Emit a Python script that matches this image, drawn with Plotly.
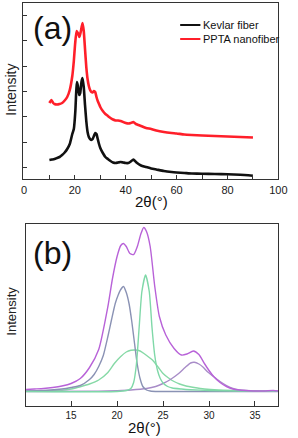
import plotly.graph_objects as go

# ---------------- Panel (a): XRD patterns ----------------
kev_x = [10, 11, 12, 13, 14, 15, 16, 17, 18, 19, 19.6, 20.2, 20.5, 20.8, 21.2, 21.7, 22.1, 22.6, 23.0, 23.5, 24.0,
         24.5, 25.0, 25.5, 26.0, 26.5, 27.0, 27.5, 28.0, 28.5, 29.0, 29.5, 30, 31, 32, 33, 34, 35, 36, 37, 38, 39,
         40, 41, 42, 43, 44, 45, 46, 48, 50, 52, 55, 58, 60, 63, 66, 70, 75, 80, 85, 90]
kev_y = [19, 19.5, 20, 21, 22, 24, 26.5, 30, 35, 45, 50, 68, 85, 97, 93, 84, 86, 97, 101, 92, 74,
         58, 47, 42, 40, 39, 40, 43, 46, 45, 40, 35, 31, 26, 22, 20, 18, 16.5, 16, 16.5, 17, 16.5,
         16, 16, 17.5, 19.5, 17, 15, 13.5, 12, 10.5, 9.5, 8, 7, 6.5, 6, 5.5, 5.2, 5, 4.8, 4.3, 3.3]

ppta_x = [10, 10.8, 11.5, 12, 13, 14, 15, 16, 17, 18, 19, 19.6, 20.1, 20.7, 21.2, 21.8, 22.3, 23.0, 23.5, 24.0,
          24.5, 25.0, 25.5, 26, 26.5, 27, 27.5, 28, 28.5, 29, 29.5, 30, 31, 32, 33, 34, 35, 36, 37, 38, 39,
          40, 41, 42, 43, 44, 45, 46, 48, 50, 52, 55, 58, 60, 63, 66, 70, 75, 80, 85, 90]
ppta_y = [76, 79, 76, 75, 74.5, 75, 76, 78.5, 82, 89, 103, 118, 135, 148, 146, 142, 147, 156, 148, 130,
          112, 100, 93, 89, 87, 86.5, 88, 87, 82, 78, 75, 72, 68, 65, 63, 61, 59.5, 58.5, 58.5, 58, 57,
          56, 55.5, 56, 57, 55, 54, 53, 51, 50, 48.5, 47, 46, 45.5, 44.5, 44, 43.5, 43, 42.5, 42, 41.5]

a_names = ["Kevlar fiber", "PPTA nanofiber"]
a_xticks = [0, 10, 20, 30, 40, 50, 60, 70, 80, 90, 100]
a_xticktext = ["0", "", "20", "", "40", "", "60", "", "80", "", "100"]
a_yticks = [11.7, 37, 62.3, 87.5, 112.8, 138.2, 163.5]

# ---------------- Panel (b): peak fitting ----------------
tot_x = [10, 11, 12, 13, 14, 15, 16, 17, 18, 19, 19.5, 20, 20.4, 20.7, 21.0, 21.4, 21.8, 22.2, 22.6, 22.9, 23.2,
         23.6, 24.1, 24.6, 25.3, 26.2, 27.0, 27.6, 28.3, 28.9, 29.5, 30, 30.5, 31.2, 31.9, 32.6, 33.3, 34, 35,
         36, 37, 37.5]
tot_y = [2, 2.5, 3, 4, 5.5, 8, 13, 24, 42, 85, 113, 135, 146, 148, 145, 138, 137, 145, 158, 164, 160,
         145, 105, 75, 56.5, 43, 36.5, 37.5, 40.5, 37, 28, 21, 15, 9, 5, 2.5, 1.5, 1, 0.5,
         0.5, 1, 0.5]

g1_x = [10, 12, 14, 15, 16, 17, 17.5, 18, 18.5, 19, 19.4, 19.8, 20.1, 20.4, 20.7, 21.0, 21.3, 21.6, 21.9, 22.2,
        22.5, 22.8, 23.2, 23.6, 24.5, 30, 37.5]
g1_y = [0.5, 1, 2.5, 4, 6, 12, 17, 25, 36, 55, 72, 88, 96, 102, 105, 99, 88, 70, 48, 27,
        13, 5, 1.5, 0.5, 0, 0, 0]

g2_x = [10, 20, 21.0, 21.5, 21.8, 22.1, 22.4, 22.7, 23.1, 23.5, 23.8, 24.1, 24.4, 24.7, 25.0, 25.5, 26.0, 27, 28,
        30, 33, 37.5]
g2_y = [0, 0, 1, 3, 9, 27, 64, 100, 116.5, 100, 64, 36, 21, 13, 8.5, 5, 3.5, 2.5, 1.8,
        1, 0.5, 0.3]

g3_x = [10, 12, 14, 15, 16, 17, 18, 19, 19.7, 20.4, 21.0, 21.5, 22.0, 22.5, 23.0, 23.5, 23.9, 24.5, 25.0, 25.6,
        26.2, 26.8, 27.5, 28.4, 29.5, 31, 33, 35, 37.5]
g3_y = [0.3, 0.6, 1.2, 2.5, 4.8, 7.5, 11.5, 19, 28, 35, 39.5, 41.2, 41.5, 40.5, 37.5, 34, 31, 24, 18, 13.5,
        10, 7.5, 5.5, 4, 2.5, 1.5, 1, 0.6, 0.4]

g4_x = [10, 18, 20, 21.5, 23.2, 24.2, 25, 25.8, 26.7, 27.4, 28.0, 28.4, 28.9, 29.4, 29.8, 30.5, 31.2, 31.9, 32.6,
        33.3, 34, 35, 37.5]
g4_y = [0, 0.3, 0.8, 1.5, 3, 5, 8, 12, 18, 24, 28.5, 29.2, 27.5, 24, 20, 15, 10, 6, 3,
        1.6, 1, 0.5, 0.2]

b_xticks = [15, 20, 25, 30, 35]

FONT = "Arial, Liberation Sans, sans-serif"
W, H = 298, 438


def px(x):
    return x / W


def py(y):
    return 1 - y / H


a_colors = ["#111111", "#ff1f2a"]

fig = go.Figure()
for xs, ys, nm, col in [(kev_x, kev_y, a_names[0], a_colors[0]), (ppta_x, ppta_y, a_names[1], a_colors[1])]:
    fig.add_trace(go.Scatter(x=xs, y=ys, mode="lines", name=nm, showlegend=False,
                             line=dict(color=col, width=2.6, shape="spline", smoothing=0.5),
                             xaxis="x", yaxis="y"))

b_traces = [
    (g3_x, g3_y, "#86d9a6"),
    (g4_x, g4_y, "#a88cc8"),
    (g1_x, g1_y, "#8a92b4"),
    (g2_x, g2_y, "#7fd8a8"),
    (tot_x, tot_y, "#b862d8"),
]
for xs, ys, col in b_traces:
    fig.add_trace(go.Scatter(x=xs, y=ys, mode="lines", showlegend=False,
                             line=dict(color=col, width=1.4, shape="spline", smoothing=0.6),
                             xaxis="x2", yaxis="y2"))

ax_common = dict(showline=True, mirror=True, linecolor="#333333", linewidth=1,
                 showgrid=False, zeroline=False, ticks="inside", tickcolor="#333333",
                 ticklabeloverflow="allow",
                 tickfont=dict(family=FONT, size=11, color="#1a1a1a"))

fig.update_layout(
    width=W, height=H,
    margin=dict(l=0, r=0, t=0, b=0),
    paper_bgcolor="white", plot_bgcolor="white",
    font=dict(family=FONT, color="#222222"),
    xaxis=dict(domain=[px(22), px(287)], range=[-0.3, 100], anchor="y",
               tickvals=a_xticks, ticktext=a_xticktext, ticklen=4, ticklabelstandoff=1, **ax_common),
    yaxis=dict(domain=[py(179), py(3)], range=[0, 176], anchor="x",
               tickvals=a_yticks, ticktext=[""] * len(a_yticks), ticklen=4, **ax_common),
    xaxis2=dict(domain=[px(25), px(287)], range=[10.1, 37.55], anchor="y2",
                tickvals=b_xticks, ticklen=5, ticklabelstandoff=0,
                **{**ax_common, "tickfont": dict(family=FONT, size=10, color="#1a1a1a")}),
    yaxis2=dict(domain=[py(406), py(223.5)], range=[-14.5, 168], anchor="x2",
                showticklabels=False, **{**ax_common, "ticks": ""}),
    showlegend=False,
)

# legend (manual, in window pixels)
for i, (nm, col) in enumerate(zip(a_names, a_colors)):
    yy = 25 + 14 * i
    fig.add_shape(type="line", xref="paper", yref="paper",
                  x0=px(185), x1=px(206), y0=py(yy), y1=py(yy),
                  line=dict(color=col, width=2))
    fig.add_annotation(text=nm, x=px(207), y=py(yy), xref="paper", yref="paper",
                       showarrow=False, xanchor="left", yanchor="middle",
                       font=dict(family=FONT, size=11, color="#111111"))

annots = [
    dict(text="(a)", x=52, y=28, size=32),
    dict(text="(b)", x=52, y=253, size=32),
    dict(text="2θ(°)", x=155, y=201, size=15),
    dict(text="2θ(°)", x=148, y=427, size=15),
]
for a in annots:
    fig.add_annotation(text=a["text"], x=px(a["x"]), y=py(a["y"]), xref="paper", yref="paper",
                       showarrow=False, xanchor="center", yanchor="middle",
                       font=dict(family=FONT, size=a["size"], color="#111111"))
for yy, sz in [(90, 14), (311, 13)]:
    fig.add_annotation(text="Intensity", x=px(9), y=py(yy), xref="paper", yref="paper",
                       showarrow=False, textangle=-90, xanchor="center", yanchor="middle",
                       font=dict(family=FONT, size=sz, color="#222222"))

# remove the page's default 8 px body margin so the figure fills the window
fig.write_html("out.html", config={"displayModeBar": False},
               post_script="document.body.style.margin='0';")
